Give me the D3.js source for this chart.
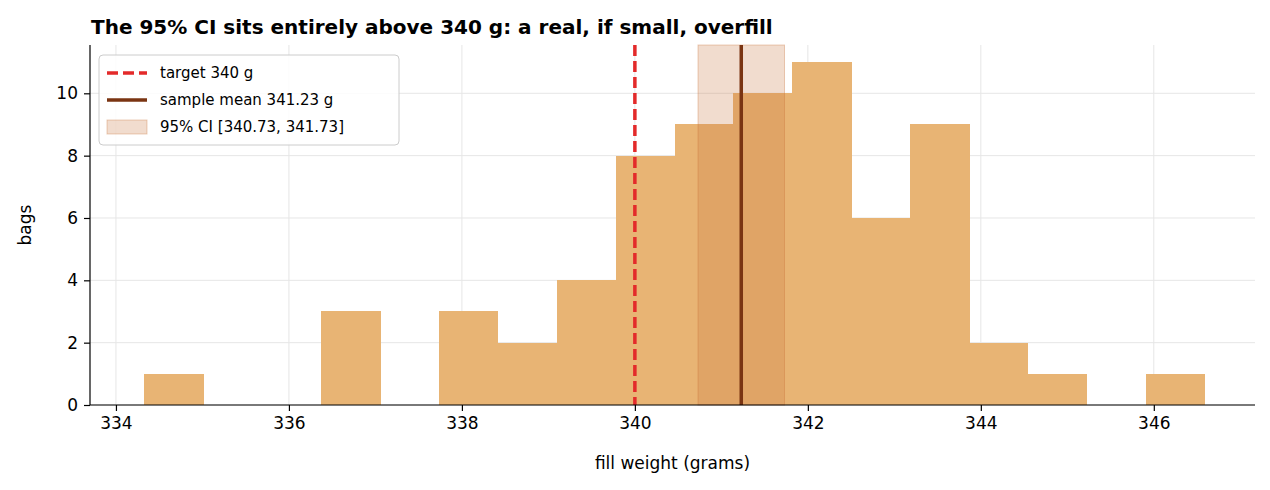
<!DOCTYPE html>
<html><head><meta charset="utf-8">
<script src="https://cdn.jsdelivr.net/npm/d3@7"></script>
<style>body{margin:0;background:#fff;font-family:"DejaVu Sans",sans-serif}</style>
</head><body><svg id="chart" width="1270" height="490"></svg>
<script>
// histogram bins (grams) and counts
const binStart = 334.33, binWidth = 0.681;
const counts = [1,0,0,3,0,3,2,4,8,9,10,11,6,9,2,1,0,1];
const xTicks = [334,336,338,340,342,344,346];
const yTicks = [0,2,4,6,8,10];
const target = 340, mean = 341.23, ciLo = 340.73, ciHi = 341.73;

const svg = d3.select("#chart");
const m = {left: 90, right: 1255, top: 45, bottom: 405};
const x = d3.scaleLinear().domain([333.7, 347.17]).range([m.left, m.right]);
const y = d3.scaleLinear().domain([0, 11.55]).range([m.bottom, m.top]);

// grid
svg.append("g").selectAll("line").data(xTicks).enter().append("line")
  .attr("x1", d => x(d)).attr("x2", d => x(d)).attr("y1", m.top).attr("y2", m.bottom)
  .attr("stroke", "#e6e6e6");
svg.append("g").selectAll("line").data(yTicks).enter().append("line")
  .attr("x1", m.left).attr("x2", m.right).attr("y1", d => y(d)).attr("y2", d => y(d))
  .attr("stroke", "#e6e6e6");

// bars
svg.append("g").attr("shape-rendering", "crispEdges").selectAll("rect").data(counts).enter().append("rect")
  .attr("x", (d, i) => x(binStart + i * binWidth))
  .attr("width", x(binStart + binWidth) - x(binStart) + 0.5)
  .attr("y", d => y(d)).attr("height", d => y(0) - y(d))
  .attr("fill", "#e8b474");

// CI band
svg.append("rect").attr("x", x(ciLo)).attr("width", x(ciHi) - x(ciLo))
  .attr("y", m.top).attr("height", m.bottom - m.top)
  .attr("fill", "#c8733a").attr("fill-opacity", 0.25)
  .attr("stroke", "#c8733a").attr("stroke-opacity", 0.35);

svg.append("line").attr("x1", x(target)).attr("x2", x(target)).attr("y1", m.top).attr("y2", m.bottom)
  .attr("stroke", "#e32a2a").attr("stroke-width", 3.5).attr("stroke-dasharray", "11,5");
svg.append("line").attr("x1", x(mean)).attr("x2", x(mean)).attr("y1", m.top).attr("y2", m.bottom)
  .attr("stroke", "#7a3412").attr("stroke-width", 3.5);

// axes
const xa = svg.append("g").attr("transform", `translate(0,${m.bottom})`)
  .call(d3.axisBottom(x).tickValues(xTicks).tickSize(6).tickPadding(6));
const ya = svg.append("g").attr("transform", `translate(${m.left},0)`)
  .call(d3.axisLeft(y).tickValues(yTicks).tickSize(6).tickPadding(6));
[xa, ya].forEach(a => {
  a.selectAll("text").attr("font-size", 17).attr("fill", "#000").attr("font-family", "DejaVu Sans");
  a.selectAll("line,path").attr("stroke", "#000").attr("stroke-width", 1.2);
});
xa.select(".domain").attr("d", `M${m.left},0H${m.right}`);
ya.select(".domain").attr("d", `M0,${m.bottom}V${m.top}`);

svg.append("text").attr("x", (m.left + m.right) / 2).attr("y", 469).attr("text-anchor", "middle")
  .attr("font-size", 17).text("fill weight (grams)");
svg.append("text").attr("transform", `translate(31,${(m.top + m.bottom) / 2}) rotate(-90)`)
  .attr("text-anchor", "middle").attr("font-size", 17).text("bags");
svg.append("text").attr("x", 91).attr("y", 34).attr("font-size", 20).attr("font-weight", "bold")
  .text("The 95% CI sits entirely above 340 g: a real, if small, overfill");

// legend
const lg = svg.append("g").attr("transform", "translate(99,55)");
lg.append("rect").attr("width", 300).attr("height", 90).attr("rx", 4)
  .attr("fill", "#fff").attr("fill-opacity", 0.85).attr("stroke", "#ccc");
const items = [
  {label: "target 340 g", kind: "dash"},
  {label: "sample mean 341.23 g", kind: "line"},
  {label: "95% CI [340.73, 341.73]", kind: "box"}
];
items.forEach((it, i) => {
  const yy = 18 + i * 27;
  if (it.kind === "box") {
    lg.append("rect").attr("x", 8).attr("y", yy - 7).attr("width", 40).attr("height", 14)
      .attr("fill", "#c8733a").attr("fill-opacity", 0.25).attr("stroke", "#c8733a").attr("stroke-opacity", 0.35);
  } else {
    lg.append("line").attr("x1", 8).attr("x2", 48).attr("y1", yy).attr("y2", yy)
      .attr("stroke", it.kind === "dash" ? "#e32a2a" : "#7a3412").attr("stroke-width", 3.5)
      .attr("stroke-dasharray", it.kind === "dash" ? "11,5" : null);
  }
  lg.append("text").attr("x", 61).attr("y", yy + 5).attr("font-size", 15).text(it.label);
});
</script></body></html>
